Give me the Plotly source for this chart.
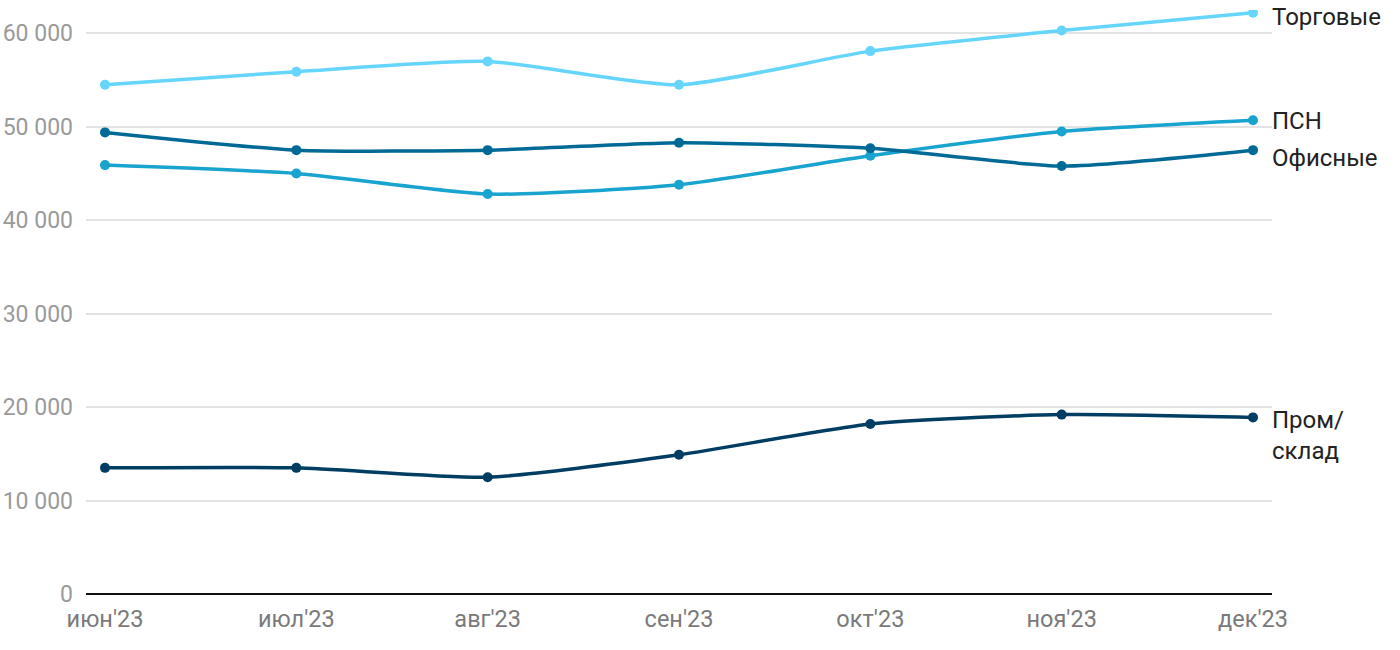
import plotly.graph_objects as go

months = ["июн'23", "июл'23", "авг'23", "сен'23", "окт'23", "ноя'23", "дек'23"]
trade = [54500, 55900, 57000, 54500, 58100, 60300, 62200]
psn = [45900, 45000, 42800, 43800, 46900, 49500, 50700]
office = [49400, 47500, 47500, 48300, 47700, 45800, 47500]
warehouse = [13500, 13500, 12500, 14900, 18200, 19200, 18900]

series = [
    ("Торговые", trade, "#66d5fb"),
    ("ПСН", psn, "#19a3cf"),
    ("Офисные", office, "#006a97"),
    ("Пром/<br>склад", warehouse, "#003d63"),
]

fig = go.Figure()
for name, vals, color in series:
    fig.add_trace(go.Scatter(
        x=months, y=vals, mode="lines+markers",
        line=dict(color=color, width=3.5, shape="spline", smoothing=0.6),
        marker=dict(color=color, size=10),
        name=name, showlegend=False, hoverinfo="x+y",
    ))

ann = [
    ("Торговые", trade[-1], -4, "middle"),
    ("ПСН", psn[-1], -1, "middle"),
    ("Офисные", office[-1], -8, "middle"),
    ("Пром/<br>склад", warehouse[-1], 13, "top"),
]
for text, v, ys, ya in ann:
    fig.add_annotation(
        x=1, xref="paper", xanchor="left", xshift=-2,
        y=v, yref="y", yanchor=ya, yshift=ys,
        text=text, showarrow=False, align="left",
        font=dict(family="Roboto", size=24, color="#222222"),
    )

fig.update_layout(
    width=1400, height=650,
    margin=dict(l=86, r=128, t=10, b=56),
    plot_bgcolor="white", paper_bgcolor="white",
    separators=", ",
    font=dict(family="Roboto"),
    xaxis=dict(
        type="category", range=[-0.0993, 6.0993], automargin=False,
        showgrid=False, showline=False, zeroline=False,
        tickfont=dict(size=23.5, color="#7a7a7a"),
        ticks="", ticklabelstandoff=8,
    ),
    yaxis=dict(
        range=[0, 62500], tickvals=[0, 10000, 20000, 30000, 40000, 50000, 60000],
        tickformat=",d", automargin=False,
        showgrid=True, gridcolor="#e3e3e3", gridwidth=2,
        zeroline=True, zerolinecolor="#111111", zerolinewidth=2,
        showline=False, ticks="",
        tickfont=dict(size=23, color="#9a9a9a"),
        ticklabelstandoff=12,
    ),
)

fig.write_html(
    "out.html",
    config={"displayModeBar": False},
    post_script="document.body.style.margin='0';document.body.style.overflow='hidden';",
)
